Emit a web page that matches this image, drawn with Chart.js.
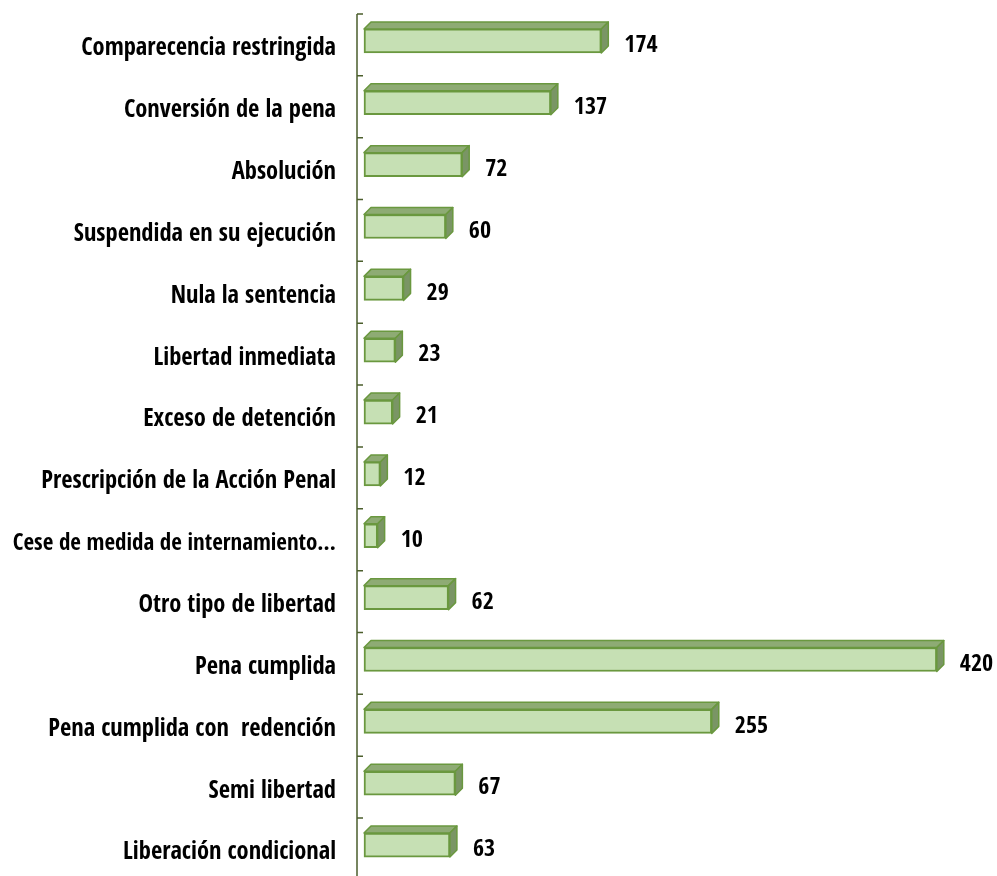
<!DOCTYPE html>
<html>
<head>
<meta charset="utf-8">
<script src="https://cdn.jsdelivr.net/npm/chart.js@4.4.0/dist/chart.umd.min.js"></script>
<style>
  html, body { margin: 0; padding: 0; background: #fff; }
  canvas { display: block; }
</style>
</head>
<body>
<canvas id="chart" width="997" height="876"></canvas>
<script>
// Categories top to bottom
const categories = [
    'Comparecencia restringida',
    'Conversión de la pena',
    'Absolución',
    'Suspendida en su ejecución',
    'Nula la sentencia',
    'Libertad inmediata',
    'Exceso de detención',
    'Prescripción de la Acción Penal',
    'Cese de medida de internamiento…',
    'Otro tipo de libertad',
    'Pena cumplida',
    'Pena cumplida con  redención',
    'Semi libertad',
    'Liberación condicional'
]
const values = [174, 137, 72, 60, 29, 23, 21, 12, 10, 62, 420, 255, 67, 63]

const FONT = '"Open Sans Condensed", "Roboto Condensed", sans-serif'
const DEPTH = 7
const EDGE = '#6a983f'

// Draws the 3D top/side faces, the value labels and the category axis
const bar3d = {
    id: 'bar3d',
    afterDatasetsDraw(chart) {
        const ctx = chart.ctx
        const meta = chart.getDatasetMeta(0)
        const area = chart.chartArea
        ctx.save()
        meta.data.forEach((bar, i) => {
            const { x, y, base, height } = bar.getProps(['x', 'y', 'base', 'height'], true)
            const top = y - height / 2
            const bottom = y + height / 2
            ctx.lineWidth = 1.5
            ctx.strokeStyle = EDGE
            ctx.lineJoin = 'round'
            // top face
            ctx.beginPath()
            ctx.moveTo(base, top)
            ctx.lineTo(base + DEPTH, top - DEPTH)
            ctx.lineTo(x + DEPTH, top - DEPTH)
            ctx.lineTo(x, top)
            ctx.closePath()
            ctx.fillStyle = '#8eab74'
            ctx.fill()
            ctx.stroke()
            // side face
            ctx.beginPath()
            ctx.moveTo(x, top)
            ctx.lineTo(x + DEPTH, top - DEPTH)
            ctx.lineTo(x + DEPTH, bottom - DEPTH)
            ctx.lineTo(x, bottom)
            ctx.closePath()
            ctx.fillStyle = '#7a9565'
            ctx.fill()
            ctx.stroke()
            // value label
            ctx.fillStyle = '#000'
            ctx.font = `bold 24px ${FONT}`
            ctx.textAlign = 'left'
            ctx.textBaseline = 'middle'
            ctx.fillText(String(values[i]), x + DEPTH + 16, y + 5)
        })
        // category axis line with inward ticks
        const axisX = area.left
        ctx.strokeStyle = '#4b5e2c'
        ctx.lineWidth = 1.5
        ctx.beginPath()
        ctx.moveTo(axisX, area.top + 4)
        ctx.lineTo(axisX, area.bottom)
        meta.data.forEach(bar => {
            const ty = bar.y - 27
            ctx.moveTo(axisX, ty)
            ctx.lineTo(axisX + 6, ty)
        })
        ctx.stroke()
        ctx.restore()
    }
}

new Chart(document.getElementById('chart'), {
    type: 'bar',
    data: {
        labels: categories,
        datasets: [{
            data: values,
            backgroundColor: '#c6e0b4',
            borderColor: EDGE,
            borderWidth: 2,
            borderSkipped: false,
            barThickness: 24
        }]
    },
    options: {
        indexAxis: 'y',
        responsive: false,
        animation: false,
        layout: { padding: { top: 10, right: 7, bottom: 0, left: 0 } },
        plugins: {
            legend: { display: false },
            tooltip: { enabled: false }
        },
        scales: {
            x: {
                display: false,
                min: -5.13,
                max: 459
            },
            y: {
                afterFit: (scale) => {
                    scale.width = 357
                    scale.paddingTop = 0
                    scale.paddingBottom = 0
                },
                grid: { display: false, drawTicks: false },
                border: { display: false },
                ticks: {
                    padding: 21,
                    labelOffset: 8,
                    color: '#000',
                    // the long truncated label is a touch smaller so it stays on the canvas
                    font: (c) => ({ family: FONT, size: c.index === 8 ? 23 : 24.5, weight: 'bold' })
                }
            }
        }
    },
    plugins: [bar3d]
})
</script>
</body>
</html>
